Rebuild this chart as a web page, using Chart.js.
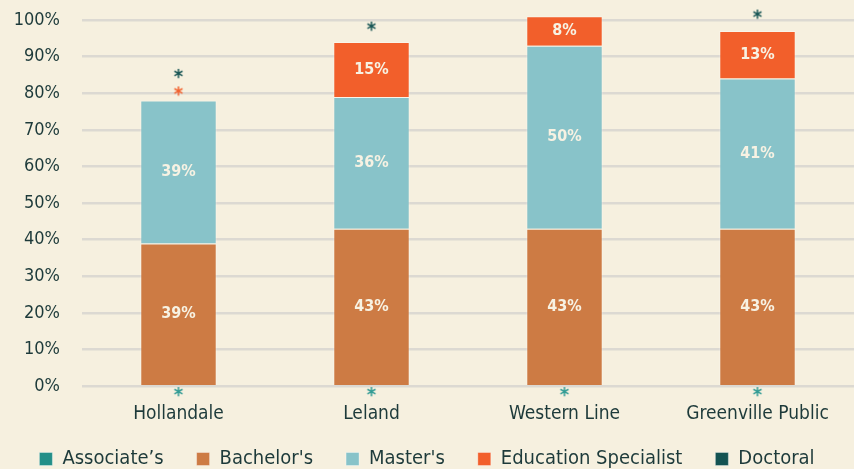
<!DOCTYPE html>
<html>
<head>
<meta charset="utf-8">
<script src="https://cdn.jsdelivr.net/npm/chart.js@4/dist/chart.umd.min.js"></script>
<style>
  html, body { margin: 0; padding: 0; background: #f6f0df; overflow: hidden; }
  #wrap { width: 854px; height: 469px; }
  canvas { display: block; }
</style>
</head>
<body>
<div id="wrap"><canvas id="myChart"></canvas></div>
<script>
// Categories and series (percent of teachers by highest degree)
var districts = ['Hollandale', 'Leland', 'Western Line', 'Greenville Public'];
var associates = [0, 0, 0, 0];
var bachelors = [39, 43, 43, 43];
var masters = [39, 36, 50, 41];
var eduSpecialist = [0, 15, 8, 13];
var doctoral = [0, 0, 0, 0];

// Asterisk markers (small / suppressed values), in percent on the y scale
var associatesStar = [-1.6, -1.6, -1.6, -1.6];
var eduSpecialistStar = [80.5, null, null, null];
var doctoralStar = [85.3, 98.2, null, 101.5];

var yTicks = [0, 10, 20, 30, 40, 50, 60, 70, 80, 90, 100];

var FONT = '"Liberation Sans Narrow", "DejaVu Sans Condensed", sans-serif';
var TEXT = '#1d3a3a';

// Build a small asterisk image to use as a point style
function makeStar(color) {
    var c = document.createElement('canvas');
    c.width = 14;
    c.height = 14;
    var g = c.getContext('2d');
    g.fillStyle = color;
    g.font = 'bold 20px ' + FONT;
    g.textAlign = 'center';
    g.textBaseline = 'middle';
    g.fillText('*', 7, 11);
    return c;
}

// Draw percentage labels inside bar segments
var barLabels = {
    id: 'barLabels',
    afterLayout: function(chart) {
        // pull the legend row closer to the axis labels
        var lg = chart.legend;
        if (lg) {
            lg.top -= 25;
            lg.bottom -= 25;
        }
    },
    afterDatasetsDraw: function(chart) {
        var ctx = chart.ctx;
        ctx.save();
        ctx.font = 'bold 16px ' + FONT;
        ctx.fillStyle = '#f7f2e3';
        ctx.textAlign = 'center';
        ctx.textBaseline = 'middle';
        chart.data.datasets.forEach(function(ds, i) {
            if (ds.type === 'line') return;
            var meta = chart.getDatasetMeta(i);
            meta.data.forEach(function(bar, j) {
                var v = ds.data[j];
                if (!v) return;
                var mid = (bar.y + bar.base) / 2;
                ctx.fillText(v + '%', bar.x, mid);
            });
        });
        ctx.restore();
    }
};

var ctx = document.getElementById('myChart').getContext('2d');

var data = {
    labels: districts,
    datasets: [
        { label: 'Associate\u2019s', data: associates, backgroundColor: '#238f88' },
        { label: "Bachelor's", data: bachelors, backgroundColor: '#cd7b44' },
        { label: "Master's", data: masters, backgroundColor: '#88c3c9' },
        { label: 'Education Specialist', data: eduSpecialist, backgroundColor: '#f25f2b' },
        { label: 'Doctoral', data: doctoral, backgroundColor: '#145352' },
        {
            type: 'line', label: 'assocStar', data: associatesStar, yAxisID: 'y2',
            showLine: false, pointStyle: makeStar('#2e9a93'), pointRadius: 6, clip: false
        },
        {
            type: 'line', label: 'edsStar', data: eduSpecialistStar, yAxisID: 'y2',
            showLine: false, pointStyle: makeStar('#f25f2b'), pointRadius: 6, clip: false
        },
        {
            type: 'line', label: 'docStar', data: doctoralStar, yAxisID: 'y2',
            showLine: false, pointStyle: makeStar('#145352'), pointRadius: 6, clip: false
        }
    ]
};

data.datasets.forEach(function(ds) {
    if (ds.type !== 'line') {
        ds.barPercentage = 0.8;
        ds.categoryPercentage = 0.495;
        ds.clip = false;
        ds.borderColor = 'rgba(255,255,255,0.35)';
        ds.borderWidth = 1;
    }
});

var options = {
    responsive: true,
    maintainAspectRatio: false,
    animation: false,
    layout: {
        autoPadding: false,
        padding: { top: 20, right: 0, left: 0, bottom: -35 }
    },
    scales: {
        x: {
            stacked: true,
            afterFit: function(scale) {
                scale.paddingLeft = 0;
                scale.paddingRight = 0;
            },
            grid: { display: false, drawTicks: false },
            border: { display: false },
            ticks: {
                color: TEXT,
                font: { family: FONT, size: 19 },
                padding: 16
            }
        },
        y: {
            stacked: true,
            min: 0,
            max: 100,
            afterFit: function(scale) {
                scale.width = 82;
                scale.paddingTop = 0;
                scale.paddingBottom = 0;
            },
            afterBuildTicks: function(scale) {
                scale.ticks = yTicks.map(function(v) { return { value: v }; });
            },
            border: { display: false },
            grid: { color: '#dcd9d2', lineWidth: 2.5, drawTicks: false },
            ticks: {
                color: TEXT,
                font: { family: FONT, size: 18 },
                padding: 22,
                callback: function(v) { return v + '%'; }
            }
        },
        y2: {
            display: false,
            min: 0,
            max: 100
        }
    },
    plugins: {
        legend: {
            position: 'bottom',
            labels: {
                color: TEXT,
                font: { family: FONT, size: 20 },
                boxWidth: 13,
                boxHeight: 13,
                padding: 33,
                filter: function(item, chartData) {
                    return chartData.datasets[item.datasetIndex].type !== 'line';
                }
            }
        },
        tooltip: { enabled: false }
    }
};

var myChart = new Chart(ctx, {
    type: 'bar',
    data: data,
    options: options,
    plugins: [barLabels]
});
</script>
</body>
</html>
